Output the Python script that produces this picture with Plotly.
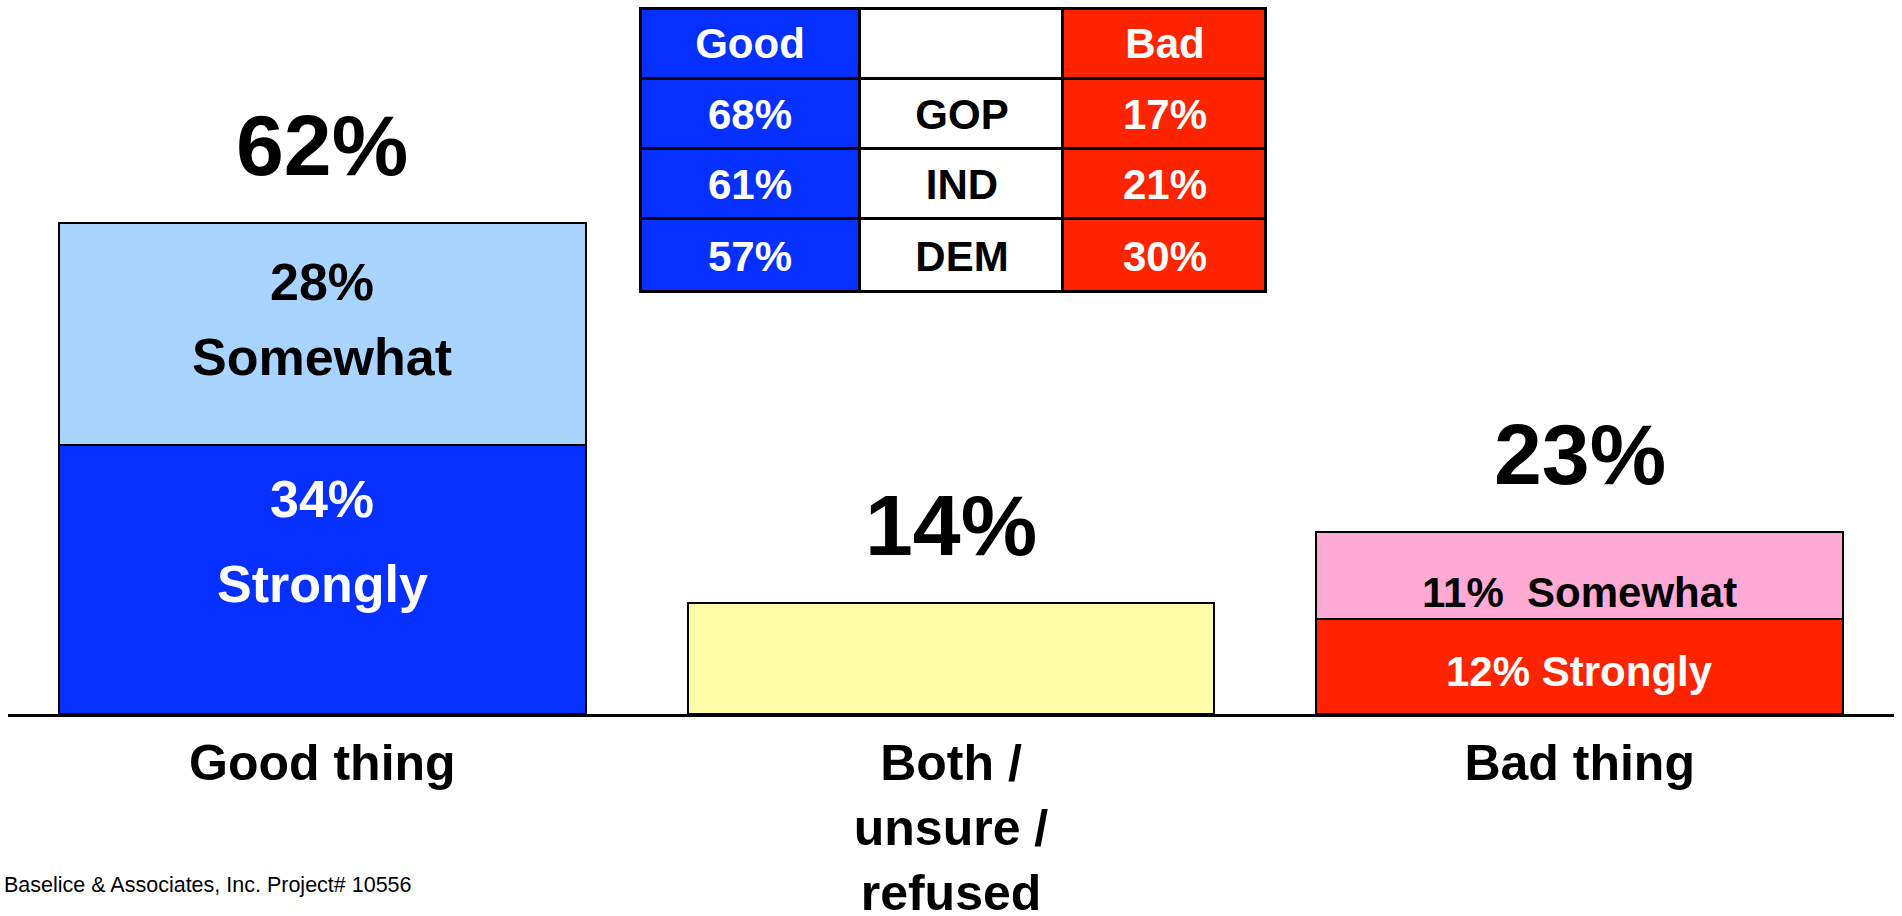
import plotly.graph_objects as go

# ---------------- data ----------------
categories = ["Good thing", "Both /<br>unsure /<br>refused", "Bad thing"]
strongly = [34, 0, 12]
somewhat = [28, 0, 11]
neutral = [0, 14, 0]
totals = [62, 14, 23]
total_labels = ["62%", "14%", "23%"]

table_header = ["Good", "", "Bad"]
table_good = ["68%", "61%", "57%"]
table_party = ["GOP", "IND", "DEM"]
table_bad = ["17%", "21%", "30%"]

footer = "Baselice & Associates, Inc. Project# 10556"

# ---------------- style ----------------
BLUE = "#0530FF"
LBLUE = "#A9D4FF"
YELLOW = "#FFFCA8"
PINK = "#FFAAD4"
RED = "#FF2400"
FONT = "Liberation Sans, Arial, sans-serif"

W, H = 1902, 916
ML, MR, MT, MB = 8, 8, 0, 202
plot_w = W - ML - MR
plot_h = H - MT - MB
px_per_unit = 491 / 62.0
y_max = plot_h / px_per_unit

fig = go.Figure()

strong_colors = [BLUE, YELLOW, RED]
some_colors = [LBLUE, YELLOW, PINK]

fig.add_bar(x=categories, y=strongly, marker=dict(color=strong_colors, line=dict(color="black", width=2)),
            hoverinfo="skip", showlegend=False)
fig.add_bar(x=categories, y=neutral, marker=dict(color=YELLOW, line=dict(color="black", width=2)),
            hoverinfo="skip", showlegend=False)
fig.add_bar(x=categories, y=somewhat, marker=dict(color=some_colors, line=dict(color="black", width=2)),
            hoverinfo="skip", showlegend=False)

annotations = []
# totals above bars
for c, t, lab in zip(categories, totals, total_labels):
    annotations.append(dict(x=c, y=t, xref="x", yref="y", text=lab, showarrow=False,
                            yanchor="middle", yshift=78,
                            font=dict(family=FONT, size=86, color="black", weight="bold")))

g = categories[0]
b = categories[2]
inner = [
    dict(x=g, y=strongly[0] / 2, text=f"{strongly[0]}%", yshift=80, color="white", size=52),
    dict(x=g, y=strongly[0] / 2, text="Strongly", yshift=-5, color="white", size=52),
    dict(x=g, y=strongly[0] + somewhat[0] / 2, text=f"{somewhat[0]}%", yshift=52, color="black", size=52),
    dict(x=g, y=strongly[0] + somewhat[0] / 2, text="Somewhat", yshift=-23, color="black", size=52),
    dict(x=b, y=strongly[2] + somewhat[2] / 2, text=f"{somewhat[2]}%&nbsp; Somewhat", yshift=-17, color="black", size=42),
    dict(x=b, y=strongly[2] / 2, text=f"{strongly[2]}% Strongly", yshift=-5, color="white", size=42),
]
for a in inner:
    annotations.append(dict(x=a["x"], y=a["y"], xref="x", yref="y", text=a["text"], showarrow=False,
                            yanchor="middle", yshift=a["yshift"],
                            font=dict(family=FONT, size=a["size"], color=a["color"], weight="bold")))

annotations.append(dict(x=(2 - ML) / plot_w, y=(plot_h - (885 - MT)) / plot_h, xref="paper", yref="paper",
                        text=footer, showarrow=False, xanchor="left", yanchor="middle",
                        font=dict(family=FONT, size=21.5, color="black")))

# ---------------- table (as heatmap grid, one trace per column) ----------------
tx0, tx1, ty0, ty1 = 639, 1267, 7, 293
dom_x = [(tx0 - ML) / plot_w, (tx1 - ML) / plot_w]
dom_y = [1 - (ty1 - MT) / plot_h, 1 - (ty0 - MT) / plot_h]
col_w = [221, 203, 204]
row_h = [72, 70, 70, 74]
col_edges = [0]
for w_ in col_w:
    col_edges.append(col_edges[-1] + w_)
row_edges = [0]
for h_ in row_h:
    row_edges.append(row_edges[-1] + h_)

table_columns = [
    [table_header[0]] + table_good,
    [table_header[1]] + table_party,
    [table_header[2]] + table_bad,
]
col_fill = [BLUE, "white", RED]
col_text = ["white", "black", "white"]

for i, col in enumerate(table_columns):
    fig.add_trace(go.Heatmap(
        x=col_edges[i:i + 2], y=row_edges, z=[[1] for _ in col], text=[[t] for t in col],
        texttemplate="<b>%{text}</b>",
        textfont=dict(family=FONT, size=42, color=col_text[i]),
        colorscale=[[0, col_fill[i]], [1, col_fill[i]]], zmin=0, zmax=1,
        showscale=False, xgap=3, ygap=3, hoverinfo="skip",
        xaxis="x2", yaxis="y2",
    ))

fig.update_layout(
    width=W, height=H,
    margin=dict(l=ML, r=MR, t=MT, b=MB, pad=0),
    paper_bgcolor="white", plot_bgcolor="white",
    barmode="stack", bargap=0.162,
    annotations=annotations,
    shapes=[
        dict(type="rect", xref="x2", yref="y2", x0=col_edges[0], x1=col_edges[-1],
             y0=row_edges[0], y1=row_edges[-1],
             fillcolor="black", line=dict(width=0), layer="below"),
        dict(type="rect", xref="x2", yref="y2", x0=col_edges[0], x1=col_edges[-1],
             y0=row_edges[0], y1=row_edges[-1],
             line=dict(color="black", width=6), layer="above"),
    ],
    xaxis=dict(type="category", range=[-0.5, 2.5], showgrid=False, zeroline=False,
               showline=True, linecolor="black", linewidth=3, ticks="",
               tickfont=dict(family=FONT, size=50, color="black", weight="bold"),
               ticklabelstandoff=3, automargin=False, fixedrange=True),
    yaxis=dict(range=[0, y_max], visible=False, fixedrange=True, automargin=False),
    xaxis2=dict(domain=dom_x, range=[0, col_edges[-1]], visible=False, anchor="y2", fixedrange=True),
    yaxis2=dict(domain=dom_y, range=[row_edges[-1], 0], visible=False, anchor="x2", fixedrange=True),
    showlegend=False,
)

fig.write_html("out.html", config={"displayModeBar": False},
               post_script="document.body.style.margin='0';")
